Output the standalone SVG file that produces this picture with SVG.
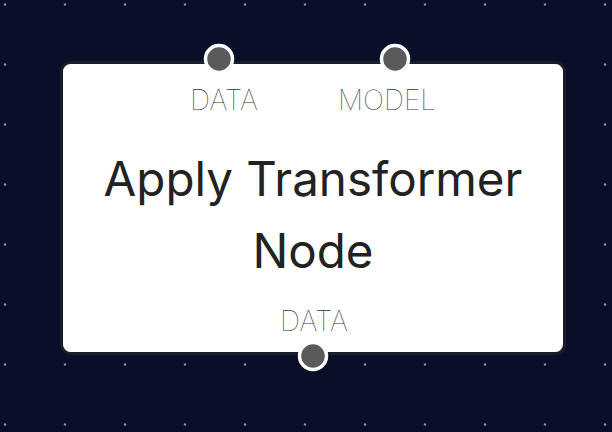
<svg xmlns="http://www.w3.org/2000/svg" width="612" height="432" viewBox="0 0 612 432">
<defs>
<pattern id="grid" x="0" y="0" width="60" height="60" patternUnits="userSpaceOnUse">
<circle cx="5" cy="4.5" r="1.2" fill="#8a8fa3"/>
</pattern>
<style>
.port{fill:#5a5a5a;stroke:#ffffff;stroke-width:3.5}
.lbl{font-family:Inter,"Liberation Sans",sans-serif;font-weight:100;font-size:28px;fill:#333333;text-anchor:middle}
.title{font-family:Inter,"Liberation Sans",sans-serif;font-weight:400;font-size:47.5px;fill:#222222;text-anchor:middle}
</style>
</defs>
<rect width="612" height="432" fill="#0a0f29"/>
<rect width="612" height="432" fill="url(#grid)"/>
<g id="connectors"></g>
<g id="node-apply-transformer">
<rect x="61.5" y="62.5" width="503" height="291" rx="9" fill="#ffffff" stroke="#1c1c2a" stroke-width="3"/>
<circle class="port" cx="219" cy="59" r="13.5"/>
<circle class="port" cx="395" cy="59" r="13.5"/>
<circle class="port" cx="313" cy="356" r="13.5"/>
<text class="lbl" x="224" y="110">DATA</text>
<text class="lbl" x="387" y="110">MODEL</text>
<text class="title" x="313" y="196">Apply Transformer</text>
<text class="title" x="313" y="268">Node</text>
<text class="lbl" x="314" y="331">DATA</text>
</g>
</svg>
